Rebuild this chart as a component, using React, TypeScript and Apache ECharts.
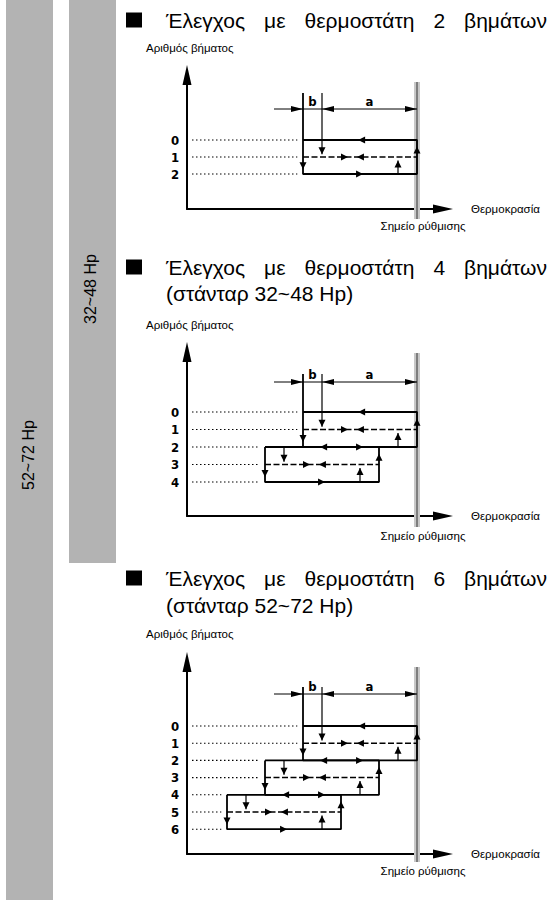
import React, { useEffect, useRef } from "react";
import * as echarts from "echarts";

// ---------- data ----------
const stepCounts = [2, 4, 6];
const titleLine1 = [
  "Έλεγχος με θερμοστάτη 2 βημάτων",
  "Έλεγχος με θερμοστάτη 4 βημάτων",
  "Έλεγχος με θερμοστάτη 6 βημάτων",
];
const titleLine2 = ["", "(στάνταρ 32~48 Hp)", "(στάνταρ 52~72 Hp)"];
const yAxisName = "Αριθμός βήματος";
const xAxisName = "Θερμοκρασία";
const setpointLabel = "Σημείο ρύθμισης";
const rangeLabels = ["52~72 Hp", "32~48 Hp"];
const stepLabels = ["0", "1", "2", "3", "4", "5", "6"];
const dimLabels = ["b", "a"];
const diffB = 1; // differential b (units)
const diffA = 5; // differential a (units of b)
const blockShift = 2; // each extra step pair starts 2b lower

// ---------- layout ----------
const FONT = '"Liberation Sans", Arial, sans-serif';
const NARROW = '"Liberation Sans Narrow", "DejaVu Sans Condensed", "Liberation Sans", sans-serif';
const TITLE_SIZE = 21;
const TITLE_LEFT = 166;
const TITLE_RIGHT = 547;
const SMALL = 11.5;
const SETPX = 417;
const UX = 19;
const AXIS_LEFT = 187;
const AXIS_RIGHT = 433;
const layouts = [
  { title: 20, title2: 0, yName: 48, tip: 65, axisY: 209, level0: 140, spacing: 17, dim: 109, ext: 93, bandTop: 82, bandBottom: 219, spY: 226 },
  { title: 267, title2: 293, yName: 325, tip: 342, axisY: 516, level0: 412, spacing: 17.5, dim: 382, ext: 374, bandTop: 353, bandBottom: 527, spY: 536 },
  { title: 578, title2: 605, yName: 634, tip: 652, axisY: 854, level0: 726, spacing: 17.2, dim: 694, ext: 687, bandTop: 667, bandBottom: 862, spY: 871 },
];

const xp = (px: number) => (px - SETPX) / UX;

function measure(text: string, font: string) {
  const c = document.createElement("canvas").getContext("2d");
  if (!c) return text.length * 10;
  c.font = font;
  return c.measureText(text).width;
}

// justified line: each word as its own real text element
function justified(text: string, y: number, out: any[]) {
  const words = text.split(" ");
  const font = `${TITLE_SIZE}px "Liberation Sans"`;
  const widths = words.map((w) => measure(w, font));
  const total = widths.reduce((a, b) => a + b, 0);
  const gap = (TITLE_RIGHT - TITLE_LEFT - total) / (words.length - 1);
  let x = TITLE_LEFT;
  words.forEach((w, k) => {
    out.push({ type: "text", x, y, style: { text: w, fill: "#000", fontSize: TITLE_SIZE, fontFamily: FONT, align: "left", verticalAlign: "middle" } });
    x += widths[k] + gap;
  });
}

function buildOption() {
  const grid: any[] = [];
  const xAxis: any[] = [];
  const yAxis: any[] = [];
  const series: any[] = [];
  const graphic: any[] = [];

  graphic.push({ type: "rect", shape: { x: 6, y: 0, width: 47, height: 900 }, style: { fill: "#b3b3b3" }, z: 0 });
  graphic.push({ type: "rect", shape: { x: 69, y: 0, width: 47, height: 563 }, style: { fill: "#b3b3b3" }, z: 0 });
  graphic.push({ type: "text", x: 28, y: 455, rotation: Math.PI / 2, style: { text: rangeLabels[0], fill: "#000", fontSize: 16, fontFamily: FONT, align: "center", verticalAlign: "middle" }, z: 1 });
  graphic.push({ type: "text", x: 90, y: 289, rotation: Math.PI / 2, style: { text: rangeLabels[1], fill: "#000", fontSize: 16, fontFamily: FONT, align: "center", verticalAlign: "middle" }, z: 1 });

  stepCounts.forEach((n, i) => {
    const L = layouts[i];
    const nb = n / 2;
    const ty = (px: number) => -(px - L.level0) / L.spacing;
    const top = L.tip + 20;
    grid.push({ left: AXIS_LEFT, top, width: AXIS_RIGHT - AXIS_LEFT, height: L.axisY - top });
    const axisLine = {
      show: true,
      onZero: false,
      symbol: ["none", "triangle"],
      symbolSize: [9, 20],
      symbolOffset: [0, 10],
      lineStyle: { color: "#000", width: 2 },
    };
    xAxis.push({
      type: "value", gridIndex: i, min: xp(AXIS_LEFT), max: xp(AXIS_RIGHT),
      axisLine, axisTick: { show: false }, axisLabel: { show: false }, splitLine: { show: false },
      name: xAxisName, nameLocation: "end", nameGap: 38,
      nameTextStyle: { color: "#000", fontSize: SMALL, fontFamily: FONT, align: "left", verticalAlign: "middle" },
    });
    yAxis.push({
      type: "value", gridIndex: i, min: ty(L.axisY), max: ty(top),
      axisLine, axisTick: { show: false }, axisLabel: { show: false }, splitLine: { show: false },
    });

    const lines: { pts: number[][]; kind: string }[] = [];
    lines.push({ pts: [[0, ty(L.bandTop)], [0, ty(L.bandBottom)]], kind: "band" });
    lines.push({ pts: [[0, ty(L.bandTop)], [0, ty(L.bandBottom)]], kind: "bandLine" });
    const Lk = (k: number) => -(diffA + diffB) - blockShift * diffB * k;
    const Rk = (k: number) => -blockShift * diffB * k;
    for (let j = 0; j <= n; j++) {
      const b = Math.min(Math.floor(j / 2), nb - 1);
      lines.push({ pts: [[xp(192), -j], [Lk(b) - 0.3, -j]], kind: "dotted" });
    }
    lines.push({ pts: [[xp(274), ty(L.dim)], [0, ty(L.dim)]], kind: "dim" });
    const arrows: number[][] = [];
    arrows.push([Lk(0), ty(L.dim), 0, 1]);
    arrows.push([Lk(0) + diffB, ty(L.dim), 1, 1]);
    arrows.push([0, ty(L.dim), 0, 1]);

    for (let k = 0; k < nb; k++) {
      const t = 2 * k;
      const l = Lk(k);
      const r = Rk(k);
      lines.push({ pts: [[l, -t], [r, -t], [r, -(t + 2)], [l, -(t + 2)], [l, -t]], kind: "solid" });
      if (k === 0) lines.push({ pts: [[l, ty(L.ext)], [l, -t]], kind: "solid" });
      lines.push({ pts: [[l + diffB, k === 0 ? ty(L.ext) : -t], [l + diffB, -(t + 0.84)]], kind: "thin" });
      lines.push({ pts: [[r - diffB, -(t + 2)], [r - diffB, -(t + 1.2)]], kind: "thin" });
      lines.push({ pts: [[l, -(t + 1)], [r, -(t + 1)]], kind: "dashed" });
      arrows.push([l + 2.9, -t, 1, 0]);
      arrows.push([l + 3.16, -(t + 2), 0, 0]);
      arrows.push([r, -(t + 0.38), 2, 0]);
      arrows.push([l, -(t + 1.72), 3, 0]);
      arrows.push([l + diffB, -(t + 0.84), 3, 0]);
      arrows.push([r - diffB, -(t + 1.2), 2, 0]);
      arrows.push([l + 2.37, -(t + 1), 0, 0]);
      arrows.push([l + 2.84, -(t + 1), 1, 0]);
    }

    const styles: Record<string, any> = {
      band: { color: "#c8c8c8", width: 6, type: "solid" },
      bandLine: { color: "#666", width: 1.5, type: "solid" },
      dotted: { color: "#000", width: 1.1, type: [1.5, 2.5] },
      dim: { color: "#000", width: 1, type: "solid" },
      solid: { color: "#000", width: 1.8, type: "solid" },
      thin: { color: "#000", width: 1.2, type: "solid" },
      dashed: { color: "#000", width: 1.5, type: [6, 2.5] },
    };
    const zs: Record<string, number> = { band: 3, bandLine: 4, dotted: 5, dim: 5, solid: 6, thin: 6, dashed: 5 };
    lines.forEach((ln) => {
      series.push({
        type: "line", xAxisIndex: i, yAxisIndex: i, data: ln.pts, symbol: "none", clip: false, silent: true,
        lineStyle: styles[ln.kind], z: zs[ln.kind], emphasis: { disabled: true },
      });
    });

    series.push({
      type: "custom", coordinateSystem: "cartesian2d", xAxisIndex: i, yAxisIndex: i, silent: true, z: 8,
      data: arrows, encode: { x: 0, y: 1 },
      renderItem: (_p: any, api: any) => {
        const [x, y] = api.coord([api.value(0), api.value(1)]);
        const dir = api.value(2);
        const big = api.value(3);
        const len = big ? 12 : 7;
        const hw = big ? 3 : 3.5;
        let pts: number[][];
        if (dir === 0) pts = [[x, y], [x - len, y - hw], [x - len, y + hw]];
        else if (dir === 1) pts = [[x, y], [x + len, y - hw], [x + len, y + hw]];
        else if (dir === 2) pts = [[x, y], [x - hw, y + len], [x + hw, y + len]];
        else pts = [[x, y], [x - hw, y - len], [x + hw, y - len]];
        return { type: "polygon", shape: { points: pts }, style: { fill: "#000" } };
      },
    });

    const texts: any[] = [];
    for (let j = 0; j <= n; j++) texts.push([xp(175), -j, j, 0]);
    texts.push([Lk(0) + diffB / 2, ty(L.dim - 8), 0, 1]);
    texts.push([(Lk(0) + diffB) / 2, ty(L.dim - 8), 1, 1]);
    series.push({
      type: "custom", coordinateSystem: "cartesian2d", xAxisIndex: i, yAxisIndex: i, silent: true, z: 9,
      data: texts, encode: { x: 0, y: 1 },
      renderItem: (_p: any, api: any) => {
        const [x, y] = api.coord([api.value(0), api.value(1)]);
        const idx = api.value(2);
        const isDim = api.value(3);
        return {
          type: "text", x, y,
          style: {
            text: isDim ? dimLabels[idx] : stepLabels[idx], fill: "#000", fontSize: 13, fontWeight: "bold",
            fontFamily: NARROW, align: "center", verticalAlign: "middle",
          },
        };
      },
    });

    graphic.push({ type: "rect", shape: { x: 126, y: L.title - 7.5, width: 16, height: 15 }, style: { fill: "#000" } });
    justified(titleLine1[i], L.title, graphic);
    if (titleLine2[i]) {
      graphic.push({ type: "text", x: TITLE_LEFT, y: L.title2, style: { text: titleLine2[i], fill: "#000", fontSize: TITLE_SIZE, fontFamily: FONT, align: "left", verticalAlign: "middle" } });
    }
    graphic.push({ type: "text", x: 146, y: L.yName, style: { text: yAxisName, fill: "#000", fontSize: SMALL, fontFamily: FONT, align: "left", verticalAlign: "middle" } });
    graphic.push({ type: "text", x: 423, y: L.spY, style: { text: setpointLabel, fill: "#000", fontSize: SMALL, fontFamily: FONT, align: "center", verticalAlign: "middle" } });
  });

  return { animation: false, backgroundColor: "#fff", grid, xAxis, yAxis, series, graphic };
}

export default function App() {
  const ref = useRef<HTMLDivElement>(null);
  useEffect(() => {
    const chart = echarts.init(ref.current!, null, { renderer: "svg" });
    chart.setOption(buildOption() as any);
    return () => chart.dispose();
  }, []);
  return <div ref={ref} style={{ position: "absolute", left: 0, top: 0, width: 556, height: 900 }} />;
}
